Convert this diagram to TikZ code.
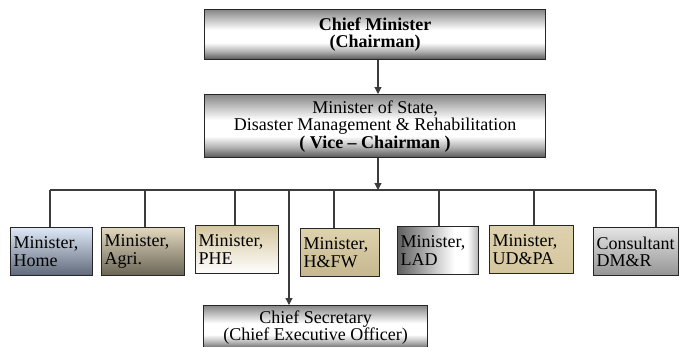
\documentclass[tikz,border=0pt]{standalone}
\usepackage{fontspec}
\setmainfont{Liberation Serif}
\usetikzlibrary{arrows.meta}
\definecolor{lineC}{RGB}{60,60,60}
\definecolor{homeT}{RGB}{222,232,246}
\definecolor{homeB}{RGB}{95,105,122}
\definecolor{agriT}{RGB}{226,216,190}
\definecolor{agriB}{RGB}{105,100,85}
\definecolor{khaki}{RGB}{212,198,158}
\definecolor{khakiL}{RGB}{222,210,174}
\definecolor{khakiD}{RGB}{198,183,142}
\definecolor{udpaM}{RGB}{112,106,90}
\definecolor{consT}{RGB}{228,228,228}
\definecolor{consB}{RGB}{148,148,148}
\definecolor{darkG}{RGB}{95,95,95}
\definecolor{cylA}{RGB}{85,85,85}
\definecolor{cylB}{RGB}{175,175,175}
\definecolor{cylC}{RGB}{135,135,135}
\pgfdeclareverticalshading{cyl}{100bp}{color(0bp)=(cylA); color(25bp)=(cylA); color(33bp)=(cylB); color(42bp)=(white); color(55bp)=(white); color(75bp)=(cylC); color(100bp)=(cylC)}
\pgfdeclarehorizontalshading{ladsh}{100bp}{color(0bp)=(darkG); color(25bp)=(darkG); color(60bp)=(white); color(68bp)=(white); color(75bp)=(gray!60); color(100bp)=(gray!60)}
\tikzset{
  box/.style={draw=black!85, line width=1.2pt, rectangle, inner sep=3pt, anchor=north west,
    font=\fontsize{18}{17.5}\selectfont},
  topbox/.style={box, align=center, shading=cyl},
  minbox/.style={box, align=left, minimum height=48pt},
  conn/.style={draw=lineC, line width=1.1pt},
  arr/.style={conn, -{Triangle[length=7pt,width=7pt]}}
}
\begin{document}
\begin{tikzpicture}[x=1pt,y=-1pt]
\useasboundingbox (0,0) rectangle (682,346);
\clip (0,0) rectangle (682,346);
% top boxes
\node[topbox, minimum width=341pt, minimum height=50pt] (cm) at (204,9)
  {\textbf{Chief Minister}\\\textbf{(Chairman)}};
\node[topbox, minimum width=341pt, minimum height=63pt] (ms) at (204,94)
  {Minister of State,\\Disaster Management \& Rehabilitation\\\textbf{( Vice -- Chairman )}};
% minister boxes
\node[minbox, minimum width=82pt, text width=76pt, top color=homeT, bottom color=homeB] (home) at (10,227) {Minister,\\Home};
\node[minbox, minimum width=83pt, text width=77pt, top color=agriT, bottom color=agriB] (agri) at (101,227) {Minister,\\Agri.};
\node[minbox, minimum width=83pt, text width=77pt, top color=khaki, bottom color=white] (phe) at (195,225) {Minister,\\PHE};
\node[minbox, minimum width=79pt, text width=73pt, top color=khakiL, bottom color=khakiD] (hfw) at (300,228) {Minister,\\H\&FW};
\node[minbox, minimum width=81pt, text width=75pt, shading=ladsh] (lad) at (397,226) {Minister,\\LAD};
\node[minbox, minimum width=84pt, text width=78pt, top color=khakiL, middle color=udpaM, bottom color=khaki] (udpa) at (489,225) {Minister,\\UD\&PA};
\node[minbox, minimum width=85pt, text width=79pt, top color=consT, bottom color=consB] (cons) at (593,227) {Consultant\\DM\&R};
% chief secretary
\node[topbox, minimum width=224pt, minimum height=44pt, font=\fontsize{18}{16}\selectfont] (cs) at (203,305)
  {Chief Secretary\\(Chief Executive Officer)};
% connectors
\coordinate (ax) at (378,0);
\coordinate (bus) at (378,190);
\coordinate (t1) at (50,190);
\coordinate (t2) at (145,190);
\coordinate (t3) at (235,190);
\coordinate (tc) at (289,190);
\coordinate (t4) at (334,190);
\coordinate (t5) at (439,190);
\coordinate (t6) at (534,190);
\coordinate (t7) at (656,190);
\draw[arr] (cm.south -| ax) -- (ms.north -| ax);
\draw[arr] (ms.south -| ax) -- (bus);
\draw[conn] (t1) -- (t7);
\draw[conn] (t1) -- (t1 |- home.north);
\draw[conn] (t2) -- (t2 |- agri.north);
\draw[conn] (t3) -- (t3 |- phe.north);
\draw[conn] (t4) -- (t4 |- hfw.north);
\draw[conn] (t5) -- (t5 |- lad.north);
\draw[conn] (t6) -- (t6 |- udpa.north);
\draw[conn] (t7) -- (t7 |- cons.north);
\draw[arr] (tc) -- (tc |- cs.north);
\end{tikzpicture}
\end{document}
